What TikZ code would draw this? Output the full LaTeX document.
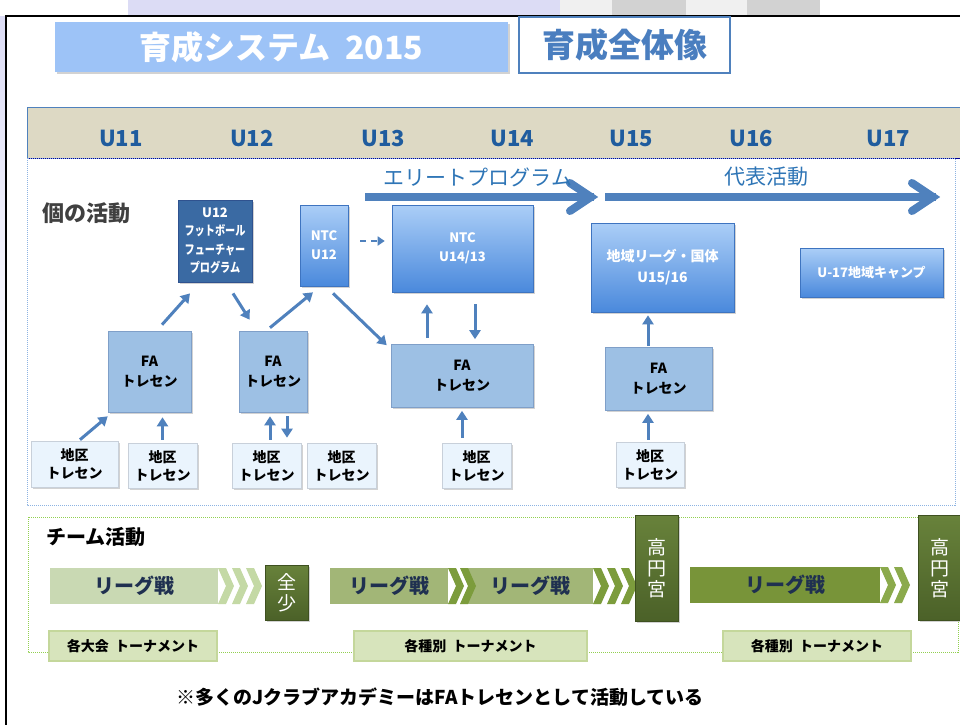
\documentclass[tikz,border=0pt]{standalone}
\usepackage{fontspec}
\usepackage{graphicx}
\setmainfont{Noto Sans CJK JP}
\usetikzlibrary{arrows.meta,calc,shadows}
\definecolor{lav}{HTML}{DCDCF5}
\definecolor{titlebl}{HTML}{9DC3F7}
\definecolor{accent}{HTML}{4F81BD}
\definecolor{ttxt}{HTML}{4A7EBF}
\definecolor{bandtan}{HTML}{DDD9C4}
\definecolor{ulab}{HTML}{1F5C9E}
\definecolor{elitetxt}{HTML}{2E75B6}
\definecolor{ffpfill}{HTML}{3A6AA3}
\definecolor{ffpline}{HTML}{2F528F}
\definecolor{ntctop}{HTML}{ABCEF7}
\definecolor{ntcbot}{HTML}{4A89DC}
\definecolor{ntcline}{HTML}{3E74C0}
\definecolor{fafill}{HTML}{9DC0E4}
\definecolor{faline}{HTML}{7F9FC8}
\definecolor{dfill}{HTML}{EAF4FD}
\definecolor{dline}{HTML}{C8D0DA}
\definecolor{lg1}{HTML}{C9D9B3}
\definecolor{ch1}{HTML}{C4D9A5}
\definecolor{lg2}{HTML}{A2B677}
\definecolor{ch2}{HTML}{7C9C3C}
\definecolor{lg4}{HTML}{789439}
\definecolor{ch4}{HTML}{8BAA4C}
\definecolor{olvtop}{HTML}{68823B}
\definecolor{olvbot}{HTML}{4B6128}
\definecolor{olvline}{HTML}{3E5020}
\definecolor{tfill}{HTML}{D7E4BC}
\definecolor{tline}{HTML}{C4D79B}
\definecolor{navytxt}{HTML}{1F3050}
\definecolor{dotblue}{HTML}{8DB3E2}
\definecolor{dotgreen}{HTML}{92D050}
\newcommand{\mychev}[4]{\fill[#4] (#1,#2) -- (#1+8,#2) -- (#1+16,{(#2+#3)/2}) -- (#1+8,#3) -- (#1,#3) -- (#1+8,{(#2+#3)/2}) -- cycle;}
\begin{document}
\begin{tikzpicture}[x=1pt,y=-1pt,
  shd/.style={drop shadow={shadow xshift=1.5pt,shadow yshift=-1.5pt,opacity=0.35}},
  bx/.style={rectangle,inner sep=0pt,align=center},
  ffpbox/.style={bx,shd,fill=ffpfill,draw=ffpline,line width=0.8pt,text=white,
     font=\fontsize{13}{18.5}\selectfont\bfseries},
  ntcbox/.style={bx,shd,top color=ntctop,bottom color=ntcbot,draw=ntcline,line width=0.6pt,text=white,
     font=\fontsize{13}{19}\selectfont\bfseries},
  fabox/.style={bx,shd,fill=fafill,draw=faline,line width=0.6pt,text=black,
     font=\fontsize{14}{20}\selectfont\bfseries},
  dbox/.style={bx,shd,fill=dfill,draw=dline,line width=0.6pt,text=black,
     minimum width=69pt,minimum height=45pt,font=\fontsize{14}{18}\selectfont\bfseries},
  olvbox/.style={bx,shd,top color=olvtop,bottom color=olvbot,draw=olvline,line width=0.6pt,text=white,
     font=\fontsize{19}{21}\selectfont},
  lbar/.style={bx,text=navytxt,minimum height=36pt,font=\fontsize{20}{22}\selectfont\bfseries},
  tbox/.style={bx,fill=tfill,draw=tline,line width=1.5pt,minimum height=30pt,text=black,
     font=\fontsize{14}{16}\selectfont\bfseries},
  ulabel/.style={text=ulab,font=\fontsize{22}{24}\selectfont\bfseries},
  conn/.style={accent,line width=3pt,-{Triangle[length=9pt,width=11pt]}},
  elite/.style={accent,line width=8pt}
]
\useasboundingbox (0,0) rectangle (960,724);
\fill[white] (0,0) rectangle (960,724);
% background decoration
\shade[top color=lav,bottom color=white] (0,16) rectangle (6,420);
\fill[lav] (128,0) rectangle (560,15);
\fill[gray!12] (560,0) rectangle (612,15);
\fill[gray!35] (612,0) rectangle (686,15);
\fill[gray!12] (686,0) rectangle (747,15);
\fill[gray!35] (747,0) rectangle (820,15);
\draw[line width=2.2pt] (6,726) -- (6,16) -- (962,16);
% titles
\node[bx,shd,fill=titlebl,minimum width=453pt,minimum height=50pt,text=white,
  font=\fontsize{32}{34}\selectfont\bfseries] (title) at (281.5,47) {育成システム\ \ 2015};
\node[bx,fill=white,draw=accent,line width=2pt,minimum width=211pt,minimum height=56pt,text=ttxt,
  font=\fontsize{33}{35}\selectfont\bfseries] (subtitle) at (624.5,45) {育成全体像};
% header band
\draw[draw=accent,line width=0.6pt,fill=bandtan] (27,107) rectangle (962,158);
\draw[color=blue!60!black,line width=0.8pt] (27,158) -- (962,158);
\node[ulabel] (u11) at (121,138) {U11};
\node[ulabel] (u12) at (252,138) {U12};
\node[ulabel] (u13) at (383,138) {U13};
\node[ulabel] (u14) at (512,138) {U14};
\node[ulabel] (u15) at (631,138) {U15};
\node[ulabel] (u16) at (751,138) {U16};
\node[ulabel] (u17) at (888,138) {U17};
% regions
\draw[dotblue,line width=1pt,densely dotted] (27,158) rectangle (955,505);
\draw[dotgreen,line width=1pt,densely dotted] (28,517) rectangle (958,652);
\node[text=black!75,font=\fontsize{22}{24}\selectfont\bfseries] (kono) at (86,213) {個の活動};
\node[text=black,font=\fontsize{20}{22}\selectfont\bfseries] (team) at (96,537) {チーム活動};
% elite arrows
\coordinate (ea1) at (365,197);
\coordinate (ea2) at (600,197);
\coordinate (eb1) at (605,197);
\coordinate (eb2) at (942,197);
\draw[elite] (ea1) -- ($(ea2)+(-6,0)$);
\draw[elite,line cap=round] ($(ea2)+(-30,-14)$) -- ($(ea2)+(-9,0)$) -- ($(ea2)+(-30,14)$);
\draw[elite] (eb1) -- ($(eb2)+(-6,0)$);
\draw[elite,line cap=round] ($(eb2)+(-30,-14)$) -- ($(eb2)+(-9,0)$) -- ($(eb2)+(-30,14)$);
\node[text=elitetxt,font=\fontsize{21}{23}\selectfont] (elitelab) at (478,177) {エリートプログラム};
\node[text=elitetxt,font=\fontsize{21}{23}\selectfont] (daihyo) at (766,177) {代表活動};
% individual boxes
\node[ffpbox,minimum width=74pt,minimum height=82pt] (ffp) at (215,241)
  {U12\\\scalebox{0.78}[1]{フットボール}\\\scalebox{0.78}[1]{フューチャー}\\\scalebox{0.78}[1]{プログラム}};
\node[ntcbox,minimum width=48pt,minimum height=81pt] (ntc12) at (324,245.5) {NTC\\U12};
\node[ntcbox,minimum width=141pt,minimum height=87pt] (ntc14) at (462.5,248.5) {NTC\\U14/13};
\node[ntcbox,minimum width=143pt,minimum height=89pt,font=\fontsize{14}{21}\selectfont\bfseries] (reg) at (662.5,267.5) {地域リーグ・国体\\U15/16};
\node[ntcbox,minimum width=143pt,minimum height=49pt] (u17c) at (871.5,272.5) {U-17地域キャンプ};
\node[fabox,minimum width=83pt,minimum height=81pt] (fa1) at (149.5,371.5) {FA\\トレセン};
\node[fabox,minimum width=68pt,minimum height=81pt] (fa2) at (273,371.5) {FA\\トレセン};
\node[fabox,minimum width=142pt,minimum height=63pt] (fa3) at (462,376) {FA\\トレセン};
\node[fabox,minimum width=107pt,minimum height=63pt] (fa4) at (658.5,379) {FA\\トレセン};
\node[dbox,minimum width=87pt,minimum height=46pt] (d1) at (74.5,464) {地区\\トレセン};
\node[dbox] (d2) at (162.5,465.5) {地区\\トレセン};
\node[dbox] (d3) at (266.5,465.5) {地区\\トレセン};
\node[dbox] (d4) at (341.5,465.5) {地区\\トレセン};
\node[dbox] (d5) at (476.5,465.5) {地区\\トレセン};
\node[dbox,minimum width=68pt] (d6) at (650,464.5) {地区\\トレセン};
% connectors
\draw[conn] ($(d1.north)+(5.5,-1)$) -- ($(fa1.south west)+(0,4)$);
\draw[conn] ($(d2.north)+(0,-3)$) -- ($(d2.north |- fa1.south)+(0,5)$);
\draw[conn] ($(fa1.north)+(12.5,-6)$) -- ($(ffp.south)+(-25,11)$);
\draw[conn] ($(ffp.south)+(18,11)$) -- ($(fa2.north west)+(11,-11)$);
\draw[conn] ($(fa2.north)+(-3,-3)$) -- ($(ntc12.south)+(-11,6)$);
\draw[conn] ($(ntc12.south)+(9,7)$) -- ($(fa3.north west)+(-4,1)$);
\draw[conn] ($(d3.north)+(3.5,-3)$) -- ($(fa2.south)+(-3,4)$);
\draw[conn] ($(fa2.south)+(14,4)$) -- ($(d3.north)+(20.5,-5)$);
\draw[conn] ($(fa3.north)+(-35,-6)$) -- ($(ntc14.south)+(-35.5,12)$);
\draw[conn] ($(ntc14.south)+(12.5,12)$) -- ($(fa3.north)+(13,-5)$);
\draw[conn] ($(d5.north)+(-14.5,-5)$) -- ($(fa3.south)+(0,3)$);
\draw[conn] ($(d6.north)+(-2,-2)$) -- ($(fa4.south)+(-10.5,3)$);
\draw[conn] ($(fa4.north)+(-10.5,-1)$) -- ($(reg.south)+(-14.5,3)$);
\draw[accent,line width=2.2pt,dashed,dash pattern=on 6pt off 5pt,-{Triangle[length=7pt,width=9pt]}]
  ($(ntc12.east)+(12,-4.5)$) -- ($(ntc14.west)+(-7,-7.5)$);
% team activities
\node[lbar,fill=lg1,minimum width=168pt] (l1) at (134,586) {リーグ戦};
\mychev{218}{568}{604}{ch1}
\mychev{232}{568}{604}{ch1}
\mychev{246}{568}{604}{ch1}
\node[olvbox,minimum width=43pt,minimum height=55pt] (zensho) at (286.5,592.5) {全\\少};
\node[lbar,fill=lg2,minimum width=118pt] (l2) at (389,586) {リーグ戦};
\node[lbar,fill=lg2,minimum width=125pt] (l3) at (530.5,586) {リーグ戦};
\mychev{448}{568}{604}{ch2}
\mychev{460}{568}{604}{ch2}
\mychev{593}{568}{604}{ch2}
\mychev{607}{568}{604}{ch2}
\mychev{621}{568}{604}{ch2}
\node[olvbox,minimum width=43pt,minimum height=106pt] (tk1) at (656.5,568) {高\\円\\宮};
\node[lbar,fill=lg4,minimum width=190pt] (l4) at (785,585) {リーグ戦};
\mychev{880}{567}{603}{ch4}
\mychev{894}{567}{603}{ch4}
\node[olvbox,minimum width=44pt,minimum height=105pt] (tk2) at (940,568) {高\\円\\宮};
\node[tbox,minimum width=168pt] (t1) at (133,646) {各大会\ \ トーナメント};
\node[tbox,minimum width=233pt] (t2) at (470.5,646) {各種別\ \ トーナメント};
\node[tbox,minimum width=188pt] (t3) at (817,646) {各種別\ \ トーナメント};
% footer
\node[text=black,font=\fontsize{19}{21}\selectfont\bfseries] (foot) at (440,697)
  {※多くのJクラブアカデミーはFAトレセンとして活動している};
\end{tikzpicture}
\end{document}
